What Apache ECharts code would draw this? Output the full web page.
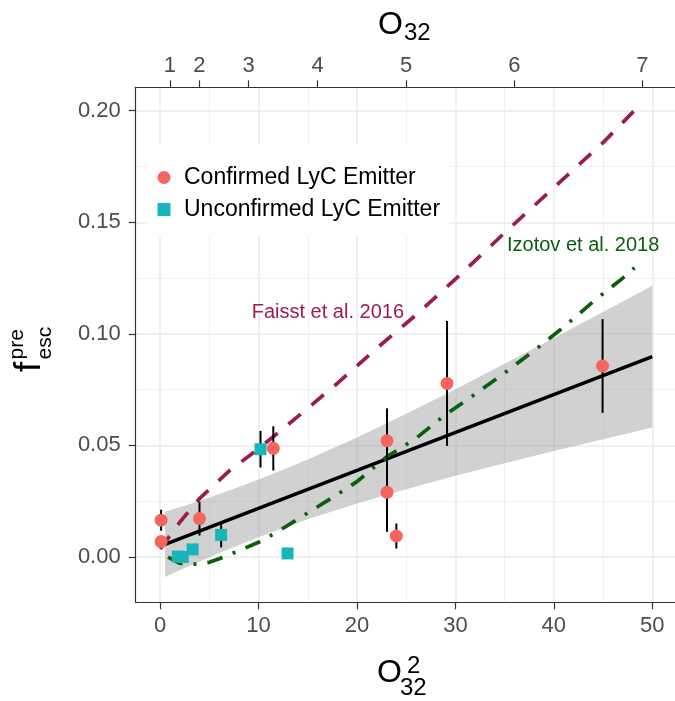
<!DOCTYPE html>
<html><head><meta charset="utf-8">
<script src="https://cdn.jsdelivr.net/npm/echarts@6/dist/echarts.min.js"></script>
<style>html,body{margin:0;padding:0;background:#fff}#c{width:675px;height:701px}</style>
</head><body><div id="c"></div>
<script>
// ---------- data ----------
const confirmedX   = [0.1, 0.1, 4.0, 11.5, 23.05, 23.05, 24.0, 29.15, 44.95];
const confirmedY   = [0.0165, 0.0069, 0.0172, 0.0487, 0.0521, 0.0290, 0.0094, 0.0778, 0.0856];
const confirmedErr = [0.0047, 0.0020, 0.0076, 0.0099, 0.0145, 0.0177, 0.0056, 0.0280, 0.0210];

const unconfX   = [1.8, 2.3, 3.3, 6.2, 10.2, 12.95];
const unconfY   = [0.0002, 0.0000, 0.0034, 0.0099, 0.0483, 0.0016];
const unconfErr = [0, 0, 0, 0.0056, 0.0082, 0];

const fitX = [0.5, 50];
const fitY = [0.00565, 0.0898];

const bandX     = [0.5, 2.5, 5, 7.5, 10, 12.5, 15, 20, 25, 30, 35, 40, 45, 50];
const bandUpper = [0.0203, 0.0230, 0.0267, 0.0306, 0.0347, 0.0391, 0.0437, 0.0536, 0.0642, 0.0752, 0.0866, 0.0981, 0.1098, 0.1216];
const bandLower = [-0.0090, -0.0049, -0.0001, 0.0045, 0.0089, 0.0130, 0.0169, 0.0240, 0.0304, 0.0364, 0.0420, 0.0475, 0.0528, 0.0580];

const faisstX = [0, 2, 4, 7, 10, 14, 18, 22, 26, 30, 35, 40, 45, 48.1];
const faisstY = [0.0036, 0.0156, 0.0262, 0.0385, 0.0485, 0.0630, 0.0778, 0.0935, 0.1085, 0.1245, 0.1453, 0.1655, 0.1857, 0.1997];

const izotovX = [0.8, 2, 3, 4, 5, 6, 7, 8, 10, 12, 14, 16, 18, 20, 23, 26, 29, 32, 35, 38, 41, 44, 47, 48.2];
const izotovY = [-0.0001, -0.0028, -0.0033, -0.0031, -0.0024, -0.0008, 0.0010, 0.0028, 0.0066, 0.0115, 0.0170, 0.0225, 0.0280, 0.0338, 0.0448, 0.0532, 0.0638, 0.0730, 0.0825, 0.0925, 0.1030, 0.1145, 0.1250, 0.1296];

const xTicks = [0, 10, 20, 30, 40, 50];
const xMinor = [5, 15, 25, 35, 45];
const yTicks = [0, 0.05, 0.10, 0.15, 0.20];
const yMinor = [0.025, 0.075, 0.125, 0.175];
const topTickPos    = [1, 4, 9, 16, 25, 36, 49];
const topTickLabels = ['1', '2', '3', '4', '5', '6', '7'];

const seriesNames = ['Confirmed LyC Emitter', 'Unconfirmed LyC Emitter'];

// ---------- chart ----------
const FONT = '"Liberation Sans", Arial, Helvetica, sans-serif';
const X_MIN = -2.48, X_MAX = 52.31, Y_MIN = -0.0203, Y_MAX = 0.2105;
const AX = '#333333', TXT = '#4D4D4D';
const RED = '#F5655F', CYAN = '#17B6BA', MAROON = '#9C1C50', GREEN = '#0B5E0B';

const zip = (a, b) => a.map((v, i) => [v, b[i]]);
const errData = (xs, ys, es) => xs.map((x, i) => [x, ys[i] - es[i], ys[i] + es[i]]).filter((d, i) => es[i] > 0);

const gridLine = {show: true, lineStyle: {color: '#EBEBEB', width: 1.5}};
const minorLine = {show: true, lineStyle: {color: '#F0F0F0', width: 1.1}};

const chart = echarts.init(document.getElementById('c'), null, {renderer: 'canvas', width: 675, height: 701});

const errRender = (params, api) => {
  const p1 = api.coord([api.value(0), api.value(1)]);
  const p2 = api.coord([api.value(0), api.value(2)]);
  return {type: 'line', shape: {x1: p1[0], y1: p1[1], x2: p2[0], y2: p2[1]}, style: {stroke: '#000', lineWidth: 2}};
};

chart.setOption({
  animation: false,
  backgroundColor: '#fff',
  textStyle: {fontFamily: FONT},
  grid: {left: 135.7, right: 0, top: 87.3, bottom: 98.7, containLabel: false},
  xAxis: [
    {type: 'value', position: 'bottom', min: X_MIN, max: X_MAX,
     axisLine: {show: true, onZero: false, lineStyle: {color: AX, width: 1.2}},
     axisTick: {show: true, customValues: xTicks, length: 7, lineStyle: {color: AX, width: 1.2}},
     axisLabel: {customValues: xTicks, fontSize: 22, color: TXT, margin: 13, fontFamily: FONT},
     splitLine: gridLine},
    {type: 'value', position: 'top', min: X_MIN, max: X_MAX,
     axisLine: {show: true, onZero: false, lineStyle: {color: AX, width: 1.2}},
     axisTick: {show: true, customValues: topTickPos, length: 7, lineStyle: {color: AX, width: 1.2}},
     axisLabel: {customValues: topTickPos, fontSize: 22, color: TXT, margin: 10, fontFamily: FONT,
                 formatter: v => topTickLabels[topTickPos.indexOf(v)]},
     splitLine: {show: false}},
    {type: 'value', position: 'bottom', min: X_MIN, max: X_MAX,
     axisLine: {show: false}, axisTick: {show: false, customValues: xMinor},
     axisLabel: {show: false, customValues: xMinor}, splitLine: minorLine}
  ],
  yAxis: [
    {type: 'value', position: 'left', min: Y_MIN, max: Y_MAX,
     axisLine: {show: true, onZero: false, lineStyle: {color: AX, width: 1.2}},
     axisTick: {show: true, customValues: yTicks, length: 7, lineStyle: {color: AX, width: 1.2}},
     axisLabel: {customValues: yTicks, fontSize: 22, color: TXT, margin: 15, fontFamily: FONT,
                 formatter: v => v.toFixed(2)},
     splitLine: gridLine},
    {type: 'value', position: 'left', min: Y_MIN, max: Y_MAX,
     axisLine: {show: false}, axisTick: {show: false, customValues: yMinor},
     axisLabel: {show: false, customValues: yMinor}, splitLine: minorLine}
  ],
  legend: {
    orient: 'vertical', left: 148, top: 144, backgroundColor: '#fff',
    padding: [22, 9, 16, 9.5], itemGap: 9, itemWidth: 30, itemHeight: 13,
    symbolKeepAspect: true,
    textStyle: {fontSize: 23, color: '#000', fontFamily: FONT},
    data: [{name: seriesNames[0], icon: 'circle'},
           {name: seriesNames[1], icon: 'path://M0,0L10,0L10,10L0,10Z'}]
  },
  series: [
    {type: 'custom', name: 'band', silent: true, z: 1,
     data: [[bandX[0], bandLower[0]]],
     renderItem: (params, api) => {
       const pts = [];
       for (let i = 0; i < bandX.length; i++) pts.push(api.coord([bandX[i], bandUpper[i]]));
       for (let i = bandX.length - 1; i >= 0; i--) pts.push(api.coord([bandX[i], bandLower[i]]));
       return {type: 'polygon', shape: {points: pts}, style: {fill: 'rgba(153,153,153,0.45)'}};
     }},
    {type: 'line', name: 'fit', data: zip(fitX, fitY), showSymbol: false, z: 3, silent: true,
     lineStyle: {color: '#000', width: 3.6}},
    {type: 'line', name: 'Faisst', data: zip(faisstX, faisstY), showSymbol: false, z: 3, silent: true,
     lineStyle: {color: MAROON, width: 3.7, type: [16, 14], cap: 'butt'}},
    {type: 'line', name: 'Izotov', data: zip(izotovX, izotovY), showSymbol: false, z: 3, silent: true,
     lineStyle: {color: GREEN, width: 3.7, type: [16, 11, 3, 11], cap: 'butt'}},
    {type: 'custom', name: 'errC', data: errData(confirmedX, confirmedY, confirmedErr), z: 4,
     encode: {x: 0, y: [1, 2]}, renderItem: errRender},
    {type: 'custom', name: 'errU', data: errData(unconfX, unconfY, unconfErr), z: 4,
     encode: {x: 0, y: [1, 2]}, renderItem: errRender},
    {type: 'scatter', name: seriesNames[1], data: zip(unconfX, unconfY), symbol: 'rect', symbolSize: 12, z: 5,
     itemStyle: {color: CYAN, opacity: 1}},
    {type: 'scatter', name: seriesNames[0], data: zip(confirmedX, confirmedY), symbol: 'circle', symbolSize: 13, z: 5,
     itemStyle: {color: RED, opacity: 1}}
  ],
  graphic: [
    // top title O_32
    {type: 'text', x: 378, y: 24.8, style: {text: 'O', font: '32px ' + FONT, fill: '#000', textAlign: 'left', textVerticalAlign: 'middle'}},
    {type: 'text', x: 404, y: 33.6, style: {text: '32', font: '24px ' + FONT, fill: '#000', textAlign: 'left', textVerticalAlign: 'middle'}},
    // bottom title O_32^2
    {type: 'text', x: 377, y: 673.5, style: {text: 'O', font: '32px ' + FONT, fill: '#000', textAlign: 'left', textVerticalAlign: 'middle'}},
    {type: 'text', x: 400, y: 688.6, style: {text: '32', font: '24px ' + FONT, fill: '#000', textAlign: 'left', textVerticalAlign: 'middle'}},
    {type: 'text', x: 407, y: 666.5, style: {text: '2', font: '24px ' + FONT, fill: '#000', textAlign: 'left', textVerticalAlign: 'middle'}},
    // y title f^pre_esc (rotated)
    {type: 'text', x: 30, y: 372, rotation: Math.PI / 2, style: {text: 'f', font: '37px ' + FONT, fill: '#000', textAlign: 'left', textVerticalAlign: 'middle'}},
    {type: 'text', x: 17, y: 359.5, rotation: Math.PI / 2, style: {text: 'pre', font: '21px ' + FONT, fill: '#000', textAlign: 'left', textVerticalAlign: 'middle'}},
    {type: 'text', x: 45, y: 359.5, rotation: Math.PI / 2, style: {text: 'esc', font: '21px ' + FONT, fill: '#000', textAlign: 'left', textVerticalAlign: 'middle'}},
    // annotations
    {type: 'text', x: 404, y: 312, z: 10, style: {text: 'Faisst et al. 2016', font: '20px ' + FONT, fill: MAROON, textAlign: 'right', textVerticalAlign: 'middle'}},
    {type: 'text', x: 507, y: 245, z: 10, style: {text: 'Izotov et al. 2018', font: '20px ' + FONT, fill: GREEN, textAlign: 'left', textVerticalAlign: 'middle'}}
  ]
});
</script>
</body></html>
